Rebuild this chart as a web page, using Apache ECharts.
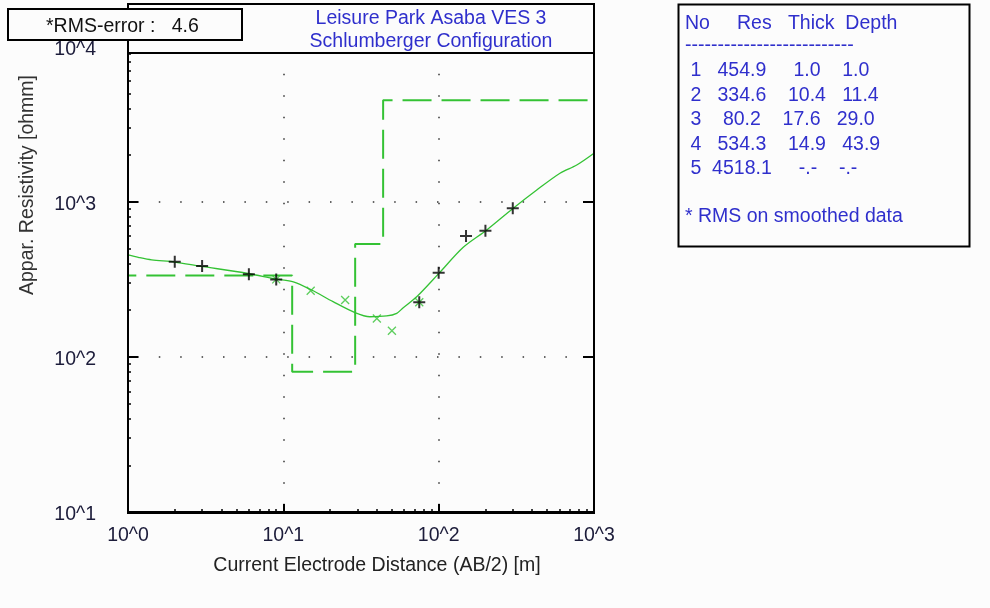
<!DOCTYPE html>
<html>
<head>
<meta charset="utf-8">
<script src="https://cdn.jsdelivr.net/npm/echarts@6/dist/echarts.min.js"></script>
<style>
  html, body { margin: 0; padding: 0; background: #fcfcfc; }
  #chart { width: 990px; height: 608px; }
</style>
</head>
<body>
<div id="chart"></div>
<script>
// Sounding curve: AB/2 spacing [m] vs apparent resistivity [ohm.m]
const fieldAB  = [2, 3, 6, 9, 75, 100, 150, 200, 300];
const fieldRho = [411, 385, 341, 316, 225, 349, 602, 651, 908];

const smoothAB  = [9, 15, 25, 40, 50, 75];
const smoothRho = [316, 267, 233, 177, 147.5, 225];

// Computed response of the layered model
const curveAB  = [1, 1.165, 1.42, 2, 2.91, 5.92, 8.97, 11.6, 15.2, 20.9, 28.9, 36.1, 46.3, 53.7, 58.9, 72.2, 102, 144, 204, 302, 428, 604, 774, 1000];
const curveRho = [454, 438, 422, 409, 385, 345, 318, 305, 270, 227, 193, 181.5, 183.6, 191, 206.6, 244, 352, 509, 658, 908, 1191, 1528, 1726, 2056];

// Layered model
const layerNo    = [1, 2, 3, 4, 5];
const layerRes   = [454.9, 334.6, 80.2, 534.3, 4518.1];
const layerThick = [1.0, 10.4, 17.6, 14.9, null];
const layerDepth = [1.0, 11.4, 29.0, 43.9, null];

// Axis ranges and tick label text
const xRange = [1, 1000];
const yRange = [10, 10000];
const tickLabel = v => '10^' + Math.round(Math.log10(v));

const rmsError = 4.6;
const titleLines = ['Leisure Park Asaba VES 3', 'Schlumberger Configuration'];
const xName = 'Current Electrode Distance (AB/2) [m]';
const yName = 'Appar. Resistivity [ohmm]';
const tableHeader = 'No     Res   Thick  Depth';
const tableNote = '* RMS on smoothed data';

const GREEN = '#34c234';
const BLUE = '#2f2fcc';
const FONT = 'Liberation Sans, Arial, sans-serif';
const FS = 19.5;

// step polyline of the layer model
const stepPts = [];
let layerTop = xRange[0];
for (let i = 0; i < layerRes.length; i++) {
  const layerBottom = layerDepth[i] == null ? xRange[1] : layerDepth[i];
  stepPts.push([layerTop, layerRes[i]], [layerBottom, layerRes[i]]);
  layerTop = layerBottom;
}

const zip = (a, b) => a.map((v, i) => [v, b[i]]);

// table rows, space padded like the fixed-width report
const fmt = v => v == null ? '-.-' : v.toFixed(1);
const tableRows = layerNo.map((n, i) =>
  String(n).padStart(2) + fmt(layerRes[i]).padStart(8) +
  fmt(layerThick[i]).padStart(8) + fmt(layerDepth[i]).padStart(7));

const chart = echarts.init(document.getElementById('chart'), null, { renderer: 'canvas' });

const txt = (text, x, y, opts) => Object.assign({
  type: 'text', z: 120,
  style: Object.assign({ text, x, y, font: FS + 'px ' + FONT, fill: '#111',
    textAlign: 'left', textVerticalAlign: 'middle' }, (opts && opts.style) || {})
}, opts && opts.el || {});

const graphics = [
  // plot frame
  { type: 'rect', z: 90, shape: { x: 128, y: 4, width: 466, height: 509 },
    style: { fill: 'none', stroke: '#000', lineWidth: 2 } },
  // title box
  { type: 'rect', z: 95, shape: { x: 128, y: 4, width: 466, height: 49 },
    style: { fill: '#fcfcfc', stroke: '#000', lineWidth: 2 } },
  txt(titleLines[0], 431, 18.5, { style: { fill: BLUE, textAlign: 'center' } }),
  txt(titleLines[1], 431, 42, { style: { fill: BLUE, textAlign: 'center' } }),
  // RMS box
  { type: 'rect', z: 110, shape: { x: 8, y: 9, width: 234, height: 31 },
    style: { fill: '#fcfcfc', stroke: '#000', lineWidth: 2 } },
  txt('*RMS-error :   ' + rmsError.toFixed(1), 46, 26.5, { style: { fill: '#111' } }),
  // model table box
  { type: 'rect', z: 95, shape: { x: 678.5, y: 4.5, width: 291, height: 242 },
    style: { fill: '#fcfcfc', stroke: '#000', lineWidth: 2 } },
  txt(tableHeader, 685, 23.5, { style: { fill: BLUE } }),
  txt('-'.repeat(26), 685, 45.5, { style: { fill: BLUE } }),
  txt(tableNote, 685, 216.5, { style: { fill: BLUE } }),
  // axis names
  txt(xName, 377, 566, { style: { fill: '#222', textAlign: 'center' } }),
  { type: 'text', z: 120, x: 28, y: 185, rotation: Math.PI / 2,
    style: { text: yName, x: 0, y: 0, font: FS + 'px ' + FONT, fill: '#333',
      textAlign: 'center', textVerticalAlign: 'middle' } }
];
tableRows.forEach((row, i) => {
  graphics.push(txt(row, 685, 71 + i * 24.5, { style: { fill: BLUE } }));
});

const axisTextStyle = { color: '#1c1c3a', fontSize: FS, fontFamily: FONT };

chart.setOption({
  backgroundColor: '#fcfcfc',
  animation: false,
  grid: { left: 128, right: 396, top: 46.7, bottom: 96, containLabel: false },
  xAxis: [{
    type: 'log', logBase: 10, min: xRange[0], max: xRange[1], position: 'bottom',
    axisLine: { show: true, lineStyle: { color: '#000', width: 2 } },
    axisTick: { show: true, inside: true, length: 8, lineStyle: { color: '#000', width: 2 } },
    minorTick: { show: true, splitNumber: 9, length: 3, lineStyle: { color: '#000', width: 1.5 } },
    axisLabel: Object.assign({ formatter: tickLabel, margin: 14, showMinLabel: true, showMaxLabel: true }, axisTextStyle),
    splitLine: { show: true, lineStyle: { color: '#333', width: 1.5, type: [1.5, 20], dashOffset: 16 } },
    minorSplitLine: { show: false }
  }],
  yAxis: [{
    type: 'log', logBase: 10, min: yRange[0], max: yRange[1], position: 'left',
    axisLine: { show: true, lineStyle: { color: '#000', width: 2 } },
    axisTick: { show: true, inside: true, length: 10, lineStyle: { color: '#000', width: 2 } },
    minorTick: { show: true, splitNumber: 9, length: 3, lineStyle: { color: '#000', width: 1.5 } },
    axisLabel: Object.assign({ formatter: tickLabel, margin: 32, verticalAlign: 'top', lineHeight: 5,
      showMinLabel: true, showMaxLabel: true }, axisTextStyle),
    splitLine: { show: true, lineStyle: { color: '#333', width: 1.5, type: [1.5, 19.9], dashOffset: 12 } },
    minorSplitLine: { show: false }
  }, {
    type: 'log', logBase: 10, min: yRange[0], max: yRange[1], position: 'right',
    axisLine: { show: true, lineStyle: { color: '#000', width: 2 } },
    axisTick: { show: true, inside: true, length: 11, lineStyle: { color: '#000', width: 2 } },
    axisLabel: { show: false },
    splitLine: { show: false }
  }],
  series: [{
    name: 'model', type: 'line', data: stepPts, showSymbol: false, z: 3,
    lineStyle: { color: GREEN, width: 2, type: [29, 10] }, silent: true
  }, {
    name: 'response', type: 'line', data: zip(curveAB, curveRho), showSymbol: false,
    smooth: 0.3, z: 4, lineStyle: { color: GREEN, width: 1.3 }, silent: true
  }, {
    name: 'smoothed', type: 'scatter', data: zip(smoothAB, smoothRho), z: 5,
    symbol: 'path://M0,0L10,10M10,0L0,10', symbolSize: 8,
    itemStyle: { color: 'transparent', borderColor: GREEN, borderWidth: 1.3 }
  }, {
    name: 'field', type: 'scatter', data: zip(fieldAB, fieldRho), z: 6,
    symbol: 'path://M5,0L5,10M0,5L10,5', symbolSize: 12,
    itemStyle: { color: 'transparent', borderColor: '#000', borderWidth: 2 }
  }],
  graphic: { elements: graphics }
});
</script>
</body>
</html>
